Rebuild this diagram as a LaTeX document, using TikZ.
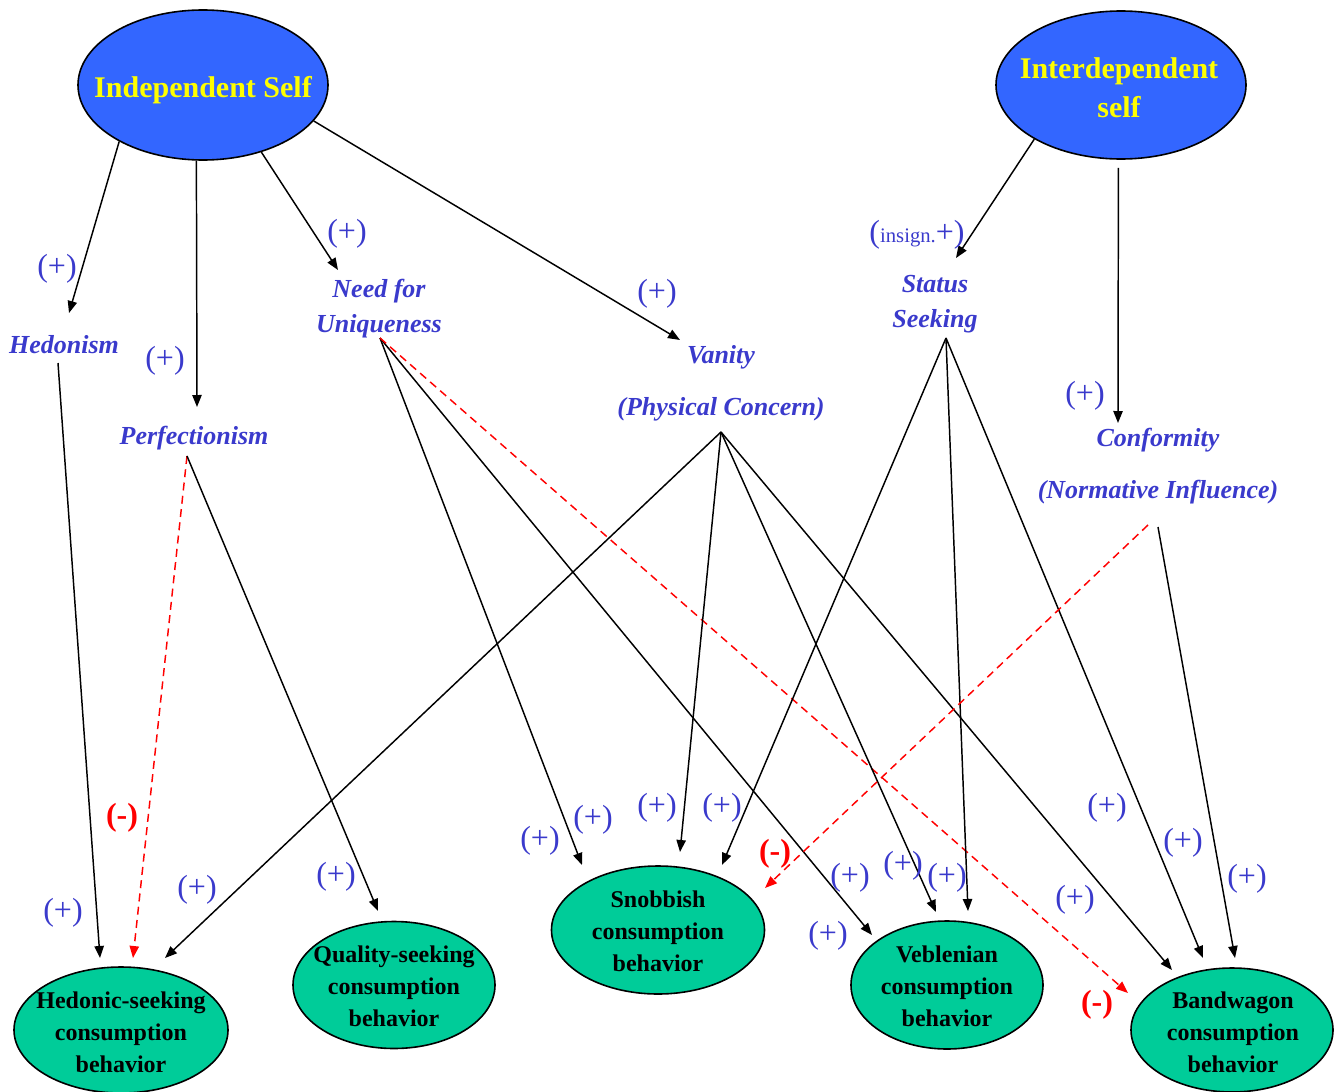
\documentclass[tikz,border=0pt]{standalone}
\usepackage{fontspec}
\setmainfont{Liberation Serif}
\usetikzlibrary{shapes.geometric,arrows.meta}
\definecolor{selfblue}{HTML}{3366FF}
\definecolor{lblue}{HTML}{3A3ACC}
\definecolor{outteal}{HTML}{00CC99}
\definecolor{selfyellow}{HTML}{FFFF00}
\begin{document}
\begin{tikzpicture}[x=0.75pt,y=-0.75pt,
 selfnode/.style={ellipse,draw=black,line width=1.2pt,fill=selfblue,inner sep=0pt},
 selftext/.style={text=selfyellow,font=\bfseries\fontsize{22.5}{29.25}\selectfont,align=center,inner sep=0pt,yshift=-2pt},
 outnode/.style={ellipse,draw=black,line width=1.2pt,fill=outteal,inner sep=0pt},
 outtext/.style={font=\bfseries\fontsize{18}{24}\selectfont,align=center,text=black,inner sep=0pt},
 concept/.style={font=\bfseries\itshape\fontsize{19.5}{26.25}\selectfont,text=lblue,align=center,inner sep=0pt,yshift=-2pt},
 poslab/.style={font=\fontsize{24}{24}\selectfont,text=lblue,inner sep=0pt,yshift=-2pt},
 neglab/.style={font=\bfseries\fontsize{24}{24}\selectfont,text=red,inner sep=0pt,yshift=-1.5pt},
 arr/.style={draw=black,line width=1.1pt,-{Triangle[length=9pt,width=7pt]}},
 negarr/.style={draw=red,line width=1.1pt,dash pattern=on 6pt off 4pt,-{Triangle[length=9pt,width=7pt]}},
]
\useasboundingbox (0,0) rectangle (1335,1092);

% self ellipses
\node[selfnode,minimum width=187.5pt,minimum height=112.5pt] (indep) at (203,85) {};
\node[selftext] (indepT) at (203,87) {Independent Self};
\node[selfnode,minimum width=187.5pt,minimum height=111pt] (inter) at (1121,85) {};
\node[selftext] (interT) at (1119,85) {Interdependent\\self};

% concepts
\node[concept] (hed) at (64,342) {Hedonism};
\node[concept] (perf) at (194,435) {Perfectionism};
\node[concept] (nfu) at (379,306) {Need for\\Uniqueness};
\node[concept,font=\bfseries\itshape\fontsize{19.5}{39}\selectfont] (van) at (721,381) {Vanity\\(Physical Concern)};
\node[concept] (stat) at (935,301) {Status\\Seeking};
\node[concept,font=\bfseries\itshape\fontsize{19.5}{39}\selectfont] (conf) at (1158,463) {Conformity\\(Normative Influence)};

% outcome ellipses
\node[outnode,minimum width=160.5pt,minimum height=94.5pt] (hedB) at (121,1030) {};
\node[outtext] (hedBT) at (121,1032) {Hedonic-seeking\\consumption\\behavior};
\node[outnode,minimum width=151.5pt,minimum height=95.25pt] (qual) at (394,985) {};
\node[outtext] (qualT) at (394,986) {Quality-seeking\\consumption\\behavior};
\node[outnode,minimum width=159.75pt,minimum height=96pt] (snob) at (658,930) {};
\node[outtext] (snobT) at (658,931) {Snobbish\\consumption\\behavior};
\node[outnode,minimum width=144pt,minimum height=96pt] (veb) at (947,985) {};
\node[outtext] (vebT) at (947,986) {Veblenian\\consumption\\behavior};
\node[outnode,minimum width=151.5pt,minimum height=93pt] (band) at (1232,1030) {};
\node[outtext] (bandT) at (1233,1032) {Bandwagon\\consumption\\behavior};

% connector end points
\coordinate (hedIn) at (69,313);
\coordinate (perfIn) at (197,407);
\coordinate (nfuIn) at (338,270);
\coordinate (vanIn) at (680,340);
\coordinate (statIn) at (956,258);
\coordinate (confIn) at (1118,423);
\coordinate (hedOut) at (58,363);
\coordinate (perfOut) at (187,456);
\coordinate (nfuOut) at (380,338);
\coordinate (vanOut) at (721,432);
\coordinate (statOut) at (946,338);
\coordinate (confOut) at (1158,527);
\coordinate (confOutR) at (1148,525);
\coordinate (hedA) at (100,958);
\coordinate (hedBb) at (133,958);
\coordinate (hedC) at (165,958);
\coordinate (qualA) at (378,911);
\coordinate (snobA) at (582,865);
\coordinate (snobB) at (680,852);
\coordinate (snobC) at (722,865);
\coordinate (snobD) at (765,888);
\coordinate (vebA) at (872,935);
\coordinate (vebB) at (936,912);
\coordinate (vebC) at (968,911);
\coordinate (bandA) at (1128,993);
\coordinate (bandB) at (1172,970);
\coordinate (bandC) at (1203,958);
\coordinate (bandD) at (1235,958);

% top arrows
\draw[arr] (indep.214.8) -- (hedIn);
\draw[arr] (indep.265.6) -- (perfIn);
\draw[arr] (indep.311.4) -- (nfuIn);
\draw[arr] (indep.342.6) -- (vanIn);
\draw[arr] (inter.212.6) -- (statIn);
\draw[arr] ([yshift=-6pt]inter.268) -- (confIn);

% lower arrows
\draw[arr] (hedOut) -- (hedA);
\draw[negarr] (perfOut) -- (hedBb);
\draw[arr] (perfOut) -- (qualA);
\draw[arr] (nfuOut) -- (snobA);
\draw[arr] (nfuOut) -- (vebA);
\draw[negarr] (nfuOut) -- (bandA);
\draw[arr] (vanOut) -- (hedC);
\draw[arr] (vanOut) -- (snobB);
\draw[arr] (vanOut) -- (vebB);
\draw[arr] (vanOut) -- (bandB);
\draw[arr] (statOut) -- (snobC);
\draw[arr] (statOut) -- (vebC);
\draw[arr] (statOut) -- (bandC);
\draw[arr] (confOut) -- (bandD);
\draw[negarr] (confOutR) -- (snobD);

% labels
\node[poslab] (p1) at (57,266) {(+)};
\node[poslab] (p2) at (165,358) {(+)};
\node[poslab] (p3) at (347,231) {(+)};
\node[poslab] (p4) at (657,291) {(+)};
\node[poslab] (p5) at (1085,393) {(+)};
\node[poslab] (p6) at (63,910) {(+)};
\node[poslab] (p7) at (197,887) {(+)};
\node[poslab] (p8) at (336,874) {(+)};
\node[poslab] (p9) at (540,838) {(+)};
\node[poslab] (p10) at (593,817) {(+)};
\node[poslab] (p11) at (657,805) {(+)};
\node[poslab] (p12) at (722,805) {(+)};
\node[poslab] (p13) at (850,875) {(+)};
\node[poslab] (p14) at (903,863) {(+)};
\node[poslab] (p15) at (947,875) {(+)};
\node[poslab] (p16) at (828,933) {(+)};
\node[poslab] (p17) at (1107,805) {(+)};
\node[poslab] (p18) at (1183,840) {(+)};
\node[poslab] (p19) at (1247,876) {(+)};
\node[poslab] (p20) at (1075,897) {(+)};
\node[poslab] (pins) at (917,232) {(\fontsize{15.5}{15.5}\selectfont insign.\fontsize{24}{24}\selectfont+)};
\node[neglab] (n1) at (122,816) {(-)};
\node[neglab] (n2) at (775,852) {(-)};
\node[neglab] (n3) at (1097,1003) {(-)};
\end{tikzpicture}
\end{document}
